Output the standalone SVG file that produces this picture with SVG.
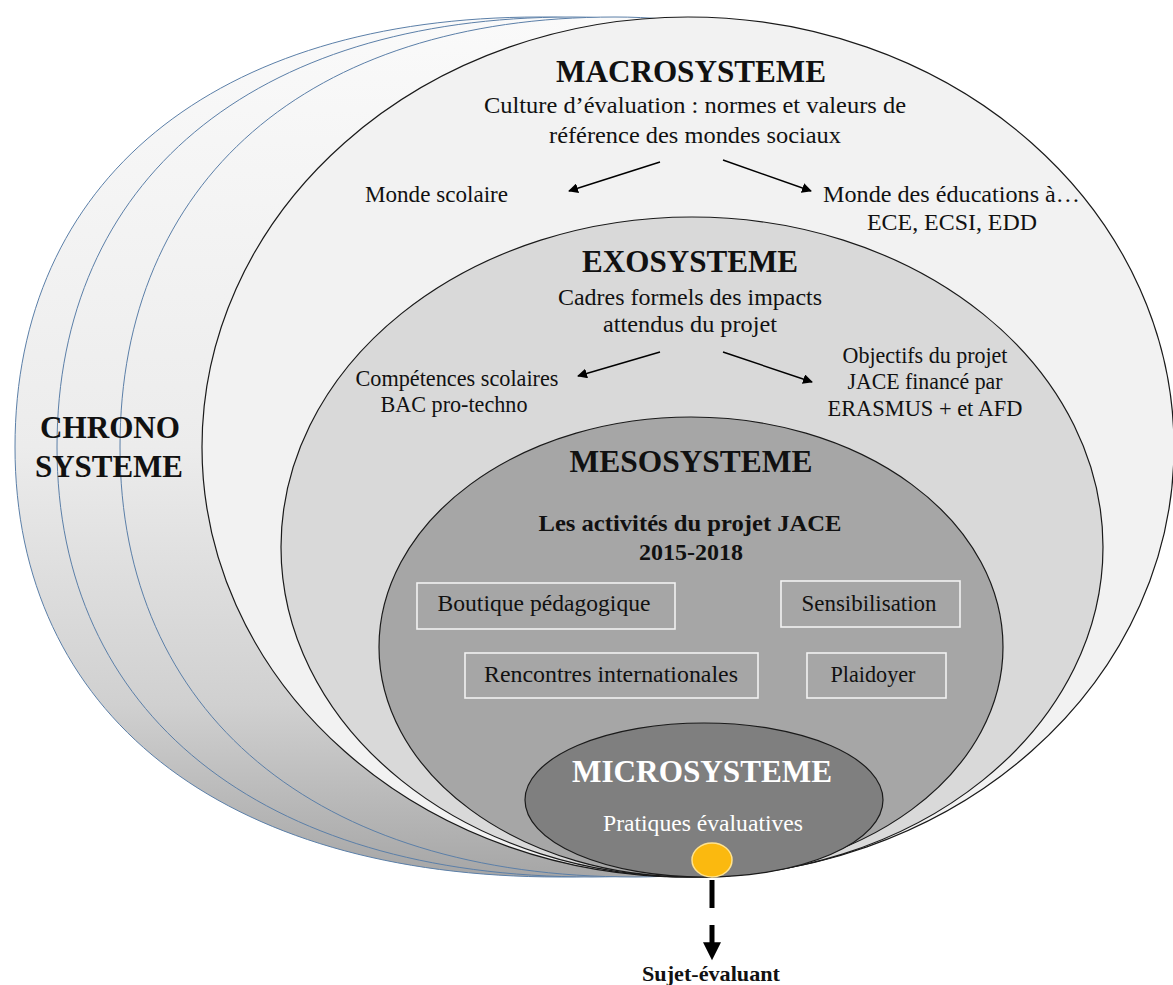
<svg xmlns="http://www.w3.org/2000/svg" width="1173" height="985" viewBox="0 0 1173 985">
<defs>
<linearGradient id="chronoGrad" x1="0" y1="0" x2="0" y2="1">
<stop offset="0" stop-color="#fafafa"/>
<stop offset="0.5" stop-color="#ececec"/>
<stop offset="0.8" stop-color="#d0d0d0"/>
<stop offset="1" stop-color="#a6a6a6"/>
</linearGradient>
<marker id="ah" viewBox="0 0 10 10" refX="9" refY="5" markerWidth="10" markerHeight="10" markerUnits="userSpaceOnUse" orient="auto">
<path d="M0,0 L10,5 L0,10 z" fill="#000"/>
</marker>
<marker id="ahBig" viewBox="0 0 10 10" refX="1" refY="5" markerWidth="20" markerHeight="18" markerUnits="userSpaceOnUse" orient="auto">
<path d="M0,0 L10,5 L0,10 z" fill="#000"/>
</marker>
</defs>
<style>
.chrono{fill:url(#chronoGrad);stroke:#5b7fa8;stroke-width:1}
.sys{stroke:#1a1a1a;stroke-width:1.2}
.t{font-family:"Liberation Serif","Times New Roman","DejaVu Serif",serif;font-size:23px;fill:#111}
.title{font-family:"Liberation Serif","Times New Roman","DejaVu Serif",serif;font-size:32px;font-weight:bold;fill:#111}
.b24{font-family:"Liberation Serif","Times New Roman","DejaVu Serif",serif;font-size:24px;font-weight:bold;fill:#111}
.w{fill:#fff}
.box{fill:none;stroke:#f2f2f2;stroke-width:1.6}
.arr{stroke:#000;stroke-width:1.4;fill:none}
</style>
<rect width="1173" height="985" fill="#fff"/>
<g id="chrono">
<path class="chrono" d="M15,447 C15,180.4 214.5,17 540,17 C830,17 1065,209.5 1065,447 C1065,684.5 839,877 560,877 C222,877 15,713.6 15,447 Z"/>
<path class="chrono" d="M57,447 C57,180.4 252.7,17 572,17 C856.4,17 1087,209.5 1087,447 C1087,684.5 865.4,877 592,877 C260.3,877 57,713.6 57,447 Z"/>
<path class="chrono" d="M120,447 C120,180.4 308.1,17 615,17 C888.4,17 1110,209.5 1110,447 C1110,684.5 897.3,877 635,877 C315.7,877 120,713.6 120,447 Z"/>
<text class="title" x="110" y="438" text-anchor="middle" font-size="31" textLength="140" lengthAdjust="spacingAndGlyphs">CHRONO</text>
<text class="title" x="109" y="477" text-anchor="middle" font-size="31" textLength="148" lengthAdjust="spacingAndGlyphs">SYSTEME</text>
</g>
<g id="macro">
<ellipse class="sys" cx="688" cy="447" rx="486" ry="430" fill="#f2f2f2"/>
<text class="title" x="691" y="82" text-anchor="middle" textLength="270" lengthAdjust="spacingAndGlyphs">MACROSYSTEME</text>
<text class="t" x="695" y="113" text-anchor="middle" textLength="422" lengthAdjust="spacingAndGlyphs">Culture d’évaluation : normes et valeurs de</text>
<text class="t" x="695" y="143" text-anchor="middle" textLength="292" lengthAdjust="spacingAndGlyphs">référence des mondes sociaux</text>
<text class="t" x="365" y="202" textLength="143" lengthAdjust="spacingAndGlyphs">Monde scolaire</text>
<text class="t" x="823" y="202" textLength="257" lengthAdjust="spacingAndGlyphs">Monde des éducations à…</text>
<text class="t" x="952" y="230" text-anchor="middle" textLength="170" lengthAdjust="spacingAndGlyphs">ECE, ECSI, EDD</text>
</g>
<g id="exo">
<ellipse class="sys" cx="692" cy="547" rx="411" ry="330" fill="#d9d9d9"/>
<text class="title" x="690" y="272" text-anchor="middle" textLength="216" lengthAdjust="spacingAndGlyphs">EXOSYSTEME</text>
<text class="t" x="690" y="305" text-anchor="middle" textLength="264" lengthAdjust="spacingAndGlyphs">Cadres formels des impacts</text>
<text class="t" x="690" y="332" text-anchor="middle" textLength="174" lengthAdjust="spacingAndGlyphs">attendus du projet</text>
<text class="t" x="457" y="386" text-anchor="middle" textLength="203" lengthAdjust="spacingAndGlyphs">Compétences scolaires</text>
<text class="t" x="454" y="412" text-anchor="middle" textLength="147" lengthAdjust="spacingAndGlyphs">BAC pro-techno</text>
<text class="t" x="925" y="363" text-anchor="middle" textLength="165" lengthAdjust="spacingAndGlyphs">Objectifs du projet</text>
<text class="t" x="925" y="389" text-anchor="middle" textLength="155" lengthAdjust="spacingAndGlyphs">JACE financé par</text>
<text class="t" x="925" y="416" text-anchor="middle" textLength="195" lengthAdjust="spacingAndGlyphs">ERASMUS + et AFD</text>
</g>
<g id="meso">
<ellipse class="sys" cx="691" cy="647" rx="312" ry="230" fill="#a6a6a6"/>
<text class="title" x="691" y="472" text-anchor="middle" textLength="243" lengthAdjust="spacingAndGlyphs">MESOSYSTEME</text>
<text class="b24" x="690" y="531" text-anchor="middle" textLength="303" lengthAdjust="spacingAndGlyphs">Les activités du projet JACE</text>
<text class="b24" x="691" y="560" text-anchor="middle" textLength="104" lengthAdjust="spacingAndGlyphs">2015-2018</text>
</g>
<g id="boutique">
<rect class="box" x="417" y="583" width="258" height="46"/>
<text class="t" x="544" y="611" text-anchor="middle" textLength="213" lengthAdjust="spacingAndGlyphs">Boutique pédagogique</text>
</g>
<g id="sensibilisation">
<rect class="box" x="781" y="581" width="179" height="46"/>
<text class="t" x="869" y="611" text-anchor="middle" textLength="135" lengthAdjust="spacingAndGlyphs">Sensibilisation</text>
</g>
<g id="rencontres">
<rect class="box" x="465" y="653" width="293" height="45"/>
<text class="t" x="611" y="682" text-anchor="middle" textLength="254" lengthAdjust="spacingAndGlyphs">Rencontres internationales</text>
</g>
<g id="plaidoyer">
<rect class="box" x="807" y="653" width="139" height="45"/>
<text class="t" x="873" y="682" text-anchor="middle" textLength="85" lengthAdjust="spacingAndGlyphs">Plaidoyer</text>
</g>
<g id="micro">
<ellipse class="sys" cx="704" cy="800" rx="179" ry="77" fill="#7f7f7f"/>
<text class="title w" x="702" y="782" text-anchor="middle" textLength="260" lengthAdjust="spacingAndGlyphs">MICROSYSTEME</text>
<text class="t w" x="703" y="831" text-anchor="middle" textLength="200" lengthAdjust="spacingAndGlyphs">Pratiques évaluatives</text>
</g>
<g id="sujet">
<ellipse cx="712" cy="860" rx="20" ry="17" fill="#fbb90f" stroke="#ffe38f" stroke-width="1.5"/>
<text x="711" y="981" text-anchor="middle" font-family="'Liberation Serif','Times New Roman',serif" font-size="21" font-weight="bold" fill="#111" textLength="138" lengthAdjust="spacingAndGlyphs">Sujet-évaluant</text>
</g>
<g id="connectors">
<line class="arr" x1="660" y1="162" x2="569" y2="191" marker-end="url(#ah)"/>
<line class="arr" x1="723" y1="160" x2="811" y2="191" marker-end="url(#ah)"/>
<line class="arr" x1="660" y1="352" x2="578" y2="376" marker-end="url(#ah)"/>
<line class="arr" x1="723" y1="352" x2="812" y2="382" marker-end="url(#ah)"/>
<line x1="712" y1="880" x2="712" y2="908" stroke="#000" stroke-width="5"/>
<line x1="712" y1="925" x2="712" y2="944" stroke="#000" stroke-width="5" marker-end="url(#ahBig)"/>
</g>
</svg>
